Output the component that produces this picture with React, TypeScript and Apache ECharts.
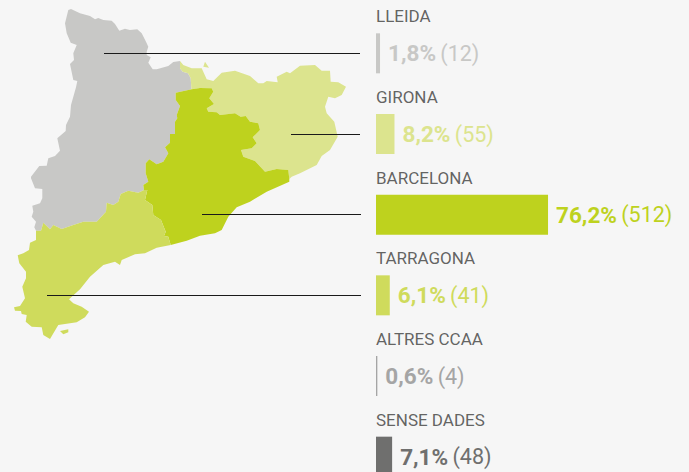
import React, { useEffect, useRef } from "react";
import * as echarts from "echarts";

const categories = ["LLEIDA", "GIRONA", "BARCELONA", "TARRAGONA", "ALTRES CCAA", "SENSE DADES"];
const counts = [12, 55, 512, 41, 4, 48];
const percents = ["1,8%", "8,2%", "76,2%", "6,1%", "0,6%", "7,1%"];
const colors = ["#c8c8c6", "#dce48e", "#bed21e", "#cfdb5c", "#a5a5a5", "#6f6f6e"];

const lleidaGironaBorder = "180,61 180,68.3 182.7,71.7 188,73.3 190.7,78.3 191.3,87.3";
const lleidaBarcelonaBorder =
  "175.7,92.7 175.7,100 180,106 176.7,115 177.3,118.3 175,121.7 175,134 170,134 170,142.7 165,147.3 168.3,153.3 163.3,161.7 156.7,164.3 149.3,159.3 145.7,163.3 145.7,173.3 148.3,181.7 143.3,185 144,190";
const lleidaTarragonaBorder =
  "138.3,192.7 128.3,190.7 120.7,194 118.3,201.7 113.3,205 106.7,202.7 106,211.7 96.7,221.7 83.3,221.7 73.3,225 61.7,229 53.3,225 50,229.3 43.3,222.7 41,230.7 36,230.7";
const gironaBarcelonaBorder =
  "191.7,89.3 200,88 211.7,88.3 213.3,91.7 209.3,98.3 214,104 206.7,108.3 208.3,111.7 216.7,112.3 220,115 235,113.3 240.7,116.7 245.7,116 250,121.7 258.3,123.3 260,130 252.7,137.3 256.7,143.3 251.7,148.3 241,150 243.3,156.7 255,161 265,171.7 276.7,169 288.3,170 289.3,179";
const barcelonaTarragonaBorder =
  "170.7,245 168.3,236.7 164,236 165.7,231.7 161,220 153.3,215 152.3,205 145,200 147.3,190 144,190";

const rev = (s: string) => s.split(" ").reverse().join(" ");
const toPath = (s: string) => "M" + s.trim().split(/\s+/).join("L") + "Z";

const regionOutlines: Record<string, string> = {
  LLEIDA: toPath(
    "71,9 80,13.3 90,16 95,19.3 98.3,18 103.3,20 111.7,20.7 115,24 119.3,30.7 125,28.7 130,30 137.3,29.3 141.7,33.3 146,41.7 148.3,46.7 146.7,51.7 146.7,55 150.7,57.3 148.3,62.7 152.7,69.3 156.7,69.3 168.3,66 173.3,62 " +
      lleidaGironaBorder + " 191.7,89.3 " + lleidaBarcelonaBorder + " " + lleidaTarragonaBorder +
      " 34.3,227.3 36,221.7 31.7,216.7 33.3,211.7 32.3,205.7 40,203.3 42.3,198.3 42.3,189 35,188.3 31,178.3 31,176.7 39.3,166 46.7,165.7 48.3,158.3 55,156 60,150.7 57.3,138.3 65.7,131 66,125 70,116.7 71,105 76,87.3 77.3,81 73.3,80 70,64 74,60 73.3,53.3 76.7,45 70.7,42.7 66.7,33.3 65,23.3 68.3,10"
  ),
  GIRONA:
    toPath(
      "180,61 183.3,65 191.7,68.3 201.7,68.3 206.7,79.3 213.3,81 221.7,72.7 235,70.7 250,76 258.3,83.3 263.3,83.3 266.7,81 277.7,82.3 276.7,76.7 286.7,71.7 290,73.3 300,65.7 315,65 321.7,70.7 330,70.7 330.7,81.7 338.3,82.3 346,86.7 341.7,95 335,98.3 328.3,96.7 325,106.7 326.7,113.3 334.3,121.7 337.7,136.7 330,150 321.7,156 316.7,165 300,173.3 291.7,176.7 289.3,179 " +
        rev(gironaBarcelonaBorder) + " " + rev(lleidaGironaBorder)
    ) + toPath("205,61.7 209,67.7 203.3,66.7"),
  BARCELONA: toPath(
    "175.7,92.7 " + gironaBarcelonaBorder +
      " 289.3,181.7 266.7,191.7 250,201.7 236.7,207.3 228.3,216.7 221.7,230 215,233.3 200,235.7 186.7,240.7 " +
      barcelonaTarragonaBorder + " " + rev(lleidaBarcelonaBorder)
  ),
  TARRAGONA:
    toPath(
      "144,190 " + lleidaTarragonaBorder +
        " 36,240 30,242.7 29,250 23.3,253.3 17.7,255.3 19.3,263.3 26,271.7 26,278.3 22.3,286.7 25,298.3 20,306 14,307.3 15,310.7 21,311 21.7,314 26.7,315 25.7,321.7 31.7,326.7 41.7,327.3 43.3,335 50,339 58.3,325 76.7,322.3 85,317.3 89,311.7 81.7,306.7 73.3,303.3 69,299.3 80,289.3 90,276.7 103.3,265 115,261.7 120,265 121.7,260 135,254.3 145,253.3 156.7,247.7 " +
        barcelonaTarragonaBorder
    ) + toPath("60,331 68.3,329.3 68.3,332.3 63.3,334.3"),
};

const mapSvg =
  '<svg xmlns="http://www.w3.org/2000/svg" width="689" height="472" viewBox="0 0 689 472">' +
  Object.entries(regionOutlines)
    .map(([name, d]) => `<path name="${name}" d="${d}"/>`)
    .join("") +
  "</svg>";

const FONT = "Roboto, sans-serif";

// [x-start, x-end, y] of each leader line from a region to its bar
const leaderLines = [
  [104, 360, 53.5],
  [291, 360, 134.5],
  [202, 361, 214.5],
  [47, 361, 295.5],
];

export default function App() {
  const ref = useRef<HTMLDivElement>(null);
  useEffect(() => {
    document.body.style.margin = "0";
    document.body.style.background = "#f6f6f6";
    echarts.registerMap("catalunya", { svg: mapSvg } as any);
    const chart = echarts.init(ref.current!, undefined, { renderer: "svg" });
    chart.setOption({
      animation: false,
      backgroundColor: "#f6f6f6",
      tooltip: { show: false },
      grid: { left: 376, top: 13, width: 252, height: 484, outerBoundsMode: "none" },
      xAxis: { type: "value", min: 0, max: 750, show: false },
      yAxis: {
        type: "category",
        inverse: true,
        data: categories,
        axisLine: { show: false },
        axisTick: { show: false },
        splitLine: { show: false },
        axisLabel: { show: false },
      },
      series: [
        {
          type: "map",
          map: "catalunya",
          left: 0,
          top: 0,
          width: 689,
          height: 472,
          roam: false,
          silent: true,
          selectedMode: false,
          label: { show: false },
          emphasis: { disabled: true },
          itemStyle: { borderWidth: 0 },
          data: categories.slice(0, 4).map((name, i) => ({
            name,
            value: counts[i],
            itemStyle: { areaColor: colors[i], color: colors[i], borderWidth: 0 },
          })),
        },
        {
          type: "bar",
          barWidth: 40,
          silent: true,
          data: counts.map((value, i) => ({
            value,
            itemStyle: { color: colors[i] },
            label: {
              show: true,
              position: "right",
              distance: 8,
              formatter: `{p|${percents[i]}} {n|(${value})}`,
              rich: {
                p: { fontFamily: FONT, fontWeight: 700, fontSize: 22.5, color: colors[i], padding: [0, 1, 0, 0] },
                n: { fontFamily: FONT, fontWeight: 400, fontSize: 21.5, color: colors[i] },
              },
            },
          })),
        },
        {
          type: "scatter",
          symbolSize: 0,
          silent: true,
          clip: false,
          data: categories.map((name) => [0, name]),
          label: {
            show: true,
            position: "right",
            distance: 0,
            offset: [0, -37],
            formatter: (p: any) => p.value[1],
            color: "#3c3c3b",
            fontFamily: FONT,
            fontSize: 17,
          },
        },
      ],
      graphic: leaderLines.map(([x1, x2, y]) => ({
        type: "line",
        silent: true,
        z: 100,
        shape: { x1, y1: y, x2, y2: y },
        style: { stroke: "#1a1a1a", lineWidth: 1 },
      })),
    });
    return () => chart.dispose();
  }, []);
  return <div ref={ref} style={{ position: "absolute", left: 0, top: 0, width: 689, height: 472 }} />;
}
